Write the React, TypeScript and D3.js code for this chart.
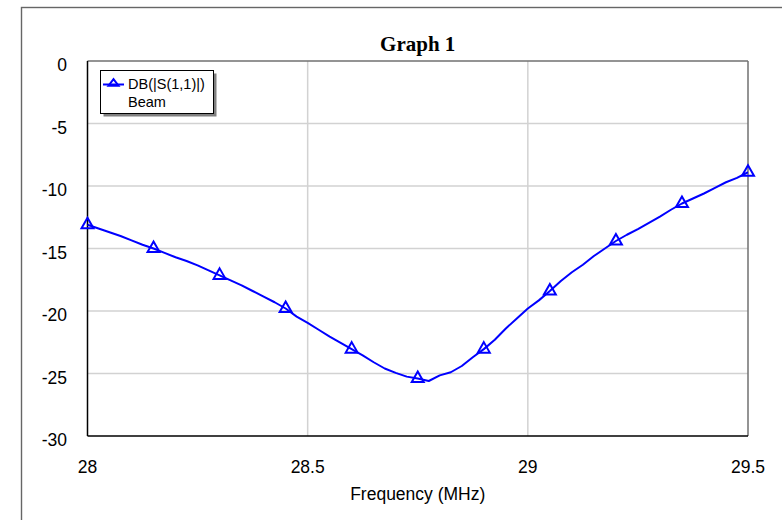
import React from "react";
import * as d3 from "d3";

const freqs = [
  28.0, 28.025, 28.05, 28.075, 28.1, 28.125, 28.15, 28.175, 28.2, 28.225,
  28.25, 28.275, 28.3, 28.325, 28.35, 28.375, 28.4, 28.425, 28.45, 28.475,
  28.5, 28.525, 28.55, 28.575, 28.6, 28.625, 28.65, 28.675, 28.7, 28.725,
  28.75, 28.775, 28.8, 28.825, 28.85, 28.875, 28.9, 28.925, 28.95, 28.975,
  29.0, 29.025, 29.05, 29.075, 29.1, 29.125, 29.15, 29.175, 29.2, 29.225,
  29.25, 29.275, 29.3, 29.325, 29.35, 29.375, 29.4, 29.425, 29.45, 29.475, 29.5,
];

const s11 = [
  -13.1, -13.4, -13.7, -14.0, -14.35, -14.7, -15.0, -15.35, -15.7, -16.0,
  -16.35, -16.75, -17.15, -17.55, -17.95, -18.4, -18.85, -19.3, -19.8, -20.45,
  -20.95, -21.5, -22.05, -22.55, -23.05, -23.55, -24.1, -24.6, -24.95, -25.25,
  -25.4, -25.6, -25.15, -24.9, -24.4, -23.7, -23.05, -22.3, -21.4, -20.6,
  -19.8, -19.15, -18.4, -17.6, -16.9, -16.3, -15.6, -15.0, -14.4, -13.9,
  -13.45, -12.95, -12.45, -11.9, -11.4, -11.0, -10.6, -10.15, -9.7, -9.35, -8.9,
];

const markerFreqs = [28.0, 28.15, 28.3, 28.45, 28.6, 28.75, 28.9, 29.05, 29.2, 29.35, 29.5];
const xTicks = [28, 28.5, 29, 29.5];
const xTickLabels = ["28", "28.5", "29", "29.5"];
const yTicks = [0, -5, -10, -15, -20, -25, -30];
const yTickLabels = ["0", "-5", "-10", "-15", "-20", "-25", "-30"];

const title = "Graph 1";
const xTitle = "Frequency (MHz)";
const legendLines = ["DB(|S(1,1)|)", "Beam"];

const W = 782;
const H = 520;
const PL = 87.5;
const PR = 748;
const PT = 61;
const PB = 436;

const BLUE = "#0000ff";
const SANS = "'Liberation Sans', Arial, sans-serif";
const SERIF = "'Liberation Serif', 'Times New Roman', serif";

function tri(cx: number, cy: number, w: number, h: number) {
  // apex above, centroid at (cx, cy)
  const top = cy - (2 * h) / 3;
  const bot = cy + h / 3;
  return `M${cx},${top}L${cx + w / 2},${bot}L${cx - w / 2},${bot}Z`;
}

export default function App() {
  const x = d3.scaleLinear().domain([28, 29.5]).range([PL, PR]);
  const y = d3.scaleLinear().domain([0, -30]).range([PT, PB]);

  const pts = freqs.map((f, i) => [f, s11[i]] as [number, number]);
  const line = d3
    .line<[number, number]>()
    .x((d) => x(d[0]))
    .y((d) => y(d[1]))
    .curve(d3.curveLinear);

  const markers = markerFreqs.map((f) => {
    const i = freqs.findIndex((v) => Math.abs(v - f) < 1e-6);
    return [f, s11[i]] as [number, number];
  });

  return (
    <svg
      width={W}
      height={H}
      style={{ position: "absolute", left: 0, top: 0, background: "#fff" }}
    >
      <rect x={0} y={0} width={W} height={H} fill="#fff" />
      {/* outer frame */}
      <rect x={21.5} y={7.5} width={900} height={700} fill="none" stroke="#666" strokeWidth={1.4} />

      {/* title */}
      <text
        x={(PL + PR) / 2}
        y={51}
        textAnchor="middle"
        fontFamily={SERIF}
        fontWeight="bold"
        fontSize={21}
        fill="#000"
      >
        {title}
      </text>

      {/* gridlines */}
      {yTicks
        .filter((t) => t !== 0 && t !== -30)
        .map((t) => (
          <line key={"gy" + t} x1={PL} x2={PR} y1={y(t)} y2={y(t)} stroke="#d2d2d2" strokeWidth={1.5} />
        ))}
      {xTicks
        .filter((t) => t !== 28 && t !== 29.5)
        .map((t) => (
          <line key={"gx" + t} x1={x(t)} x2={x(t)} y1={PT} y2={PB} stroke="#d2d2d2" strokeWidth={1.5} />
        ))}

      {/* plot border */}
      <line x1={PL} x2={PR} y1={PT} y2={PT} stroke="#707070" strokeWidth={1.5} />
      <line x1={PR} x2={PR} y1={PT} y2={PB} stroke="#707070" strokeWidth={1.5} />
      <line x1={PL} x2={PL} y1={PT} y2={PB} stroke="#000" strokeWidth={1.5} />
      <line x1={PL} x2={PR} y1={PB} y2={PB} stroke="#000" strokeWidth={1.5} />

      {/* y tick labels */}
      {yTicks.map((t, i) => (
        <text
          key={"yl" + t}
          x={67}
          y={y(t) + 10}
          textAnchor="end"
          fontFamily={SANS}
          fontSize={17.5}
          fill="#000"
        >
          {yTickLabels[i]}
        </text>
      ))}

      {/* x tick labels */}
      {xTicks.map((t, i) => (
        <text
          key={"xl" + t}
          x={x(t)}
          y={PB + 37}
          textAnchor="middle"
          fontFamily={SANS}
          fontSize={17.5}
          fill="#000"
        >
          {xTickLabels[i]}
        </text>
      ))}

      {/* x title */}
      <text
        x={(PL + PR) / 2}
        y={500}
        textAnchor="middle"
        fontFamily={SANS}
        fontSize={17.5}
        fill="#000"
      >
        {xTitle}
      </text>

      {/* series */}
      <path d={line(pts) || ""} fill="none" stroke={BLUE} strokeWidth={2} strokeLinejoin="round" />
      {markers.map((d, i) => (
        <path
          key={"m" + i}
          d={tri(x(d[0]), y(d[1]), 12, 10.5)}
          fill="none"
          stroke={BLUE}
          strokeWidth={2}
        />
      ))}

      {/* legend */}
      <rect x={103.5} y={73.5} width={113} height={43} fill="#808080" />
      <rect x={100.5} y={70.5} width={113} height={43} fill="#fff" stroke="#000" strokeWidth={1} />
      <line x1={103} x2={124} y1={84.5} y2={84.5} stroke={BLUE} strokeWidth={2} />
      <path d={tri(113.5, 83.5, 10, 6.5)} fill="none" stroke={BLUE} strokeWidth={2} />
      <text x={128} y={89} fontFamily={SANS} fontSize={14.5} fill="#000">
        {legendLines[0]}
      </text>
      <text x={128} y={107} fontFamily={SANS} fontSize={14.5} fill="#000">
        {legendLines[1]}
      </text>
    </svg>
  );
}
